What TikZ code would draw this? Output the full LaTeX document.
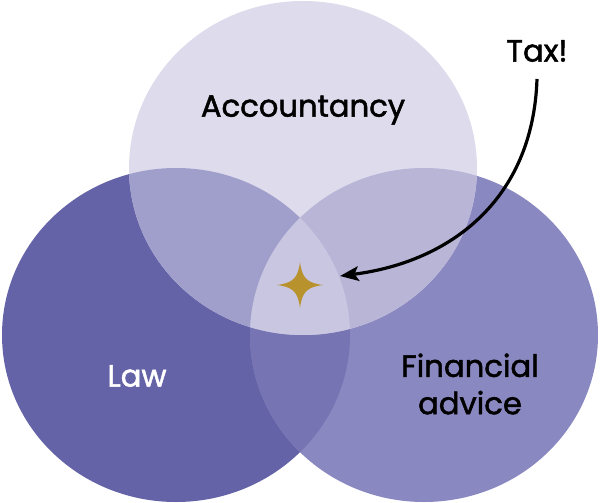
\documentclass[tikz,border=0pt]{standalone}
\usepackage{fontspec}
\setmainfont{Poppins}[RawFeature={embolden=1.6}]
\usetikzlibrary{arrows.meta}
\definecolor{topc}{HTML}{DDDBEC}
\definecolor{lawc}{HTML}{6563A7}
\definecolor{finc}{HTML}{8A88C0}
\definecolor{tlc}{HTML}{A09ECB}
\definecolor{tfc}{HTML}{B8B5D7}
\definecolor{lfc}{HTML}{7674B3}
\definecolor{allc}{HTML}{C9C6E2}
\definecolor{starc}{HTML}{B8922C}
\begin{document}
\begin{tikzpicture}[x=0.75pt,y=-0.75pt,
  lbl/.style={font=\fontsize{23}{28}\selectfont, align=center, inner sep=0pt},
  conn/.style={line width=2.4pt, -{Stealth[length=14pt,width=11pt,inset=3pt]}}]
\useasboundingbox (0,0) rectangle (600,503);
\def\TopE{(303,168) ellipse [x radius=174, y radius=167]}
\def\LawE{(176,335) ellipse [x radius=174, y radius=167]}
\def\FinE{(424,335) ellipse [x radius=174, y radius=167]}
\fill[lawc] \LawE;
\fill[finc] \FinE;
\fill[topc] \TopE;
\begin{scope}\clip \LawE; \fill[lfc] \FinE; \end{scope}
\begin{scope}\clip \TopE; \fill[tlc] \LawE; \end{scope}
\begin{scope}\clip \TopE; \fill[tfc] \FinE; \end{scope}
\begin{scope}\clip \TopE; \clip \LawE; \fill[allc] \FinE; \end{scope}
% star
\fill[starc] (300,262) .. controls (302,278) and (307,283) .. (323,285)
  .. controls (307,287) and (302,292) .. (300,308)
  .. controls (298,292) and (293,287) .. (277,285)
  .. controls (293,283) and (298,278) .. (300,262) -- cycle;
% labels
\node[lbl] (acc) at (303,110) {Accountancy};
\node[lbl, text=white] (law) at (137,376) {Law};
\node[lbl] (fin) at (470,384) {Financial\\advice};
\node[lbl] (tax) at (537,51) {Tax!};
\coordinate (tstart) at (537,79);
\coordinate (tip) at (340,276);
\draw[conn] (tstart) .. controls (533,200) and (450,262) .. (tip);
\end{tikzpicture}
\end{document}
